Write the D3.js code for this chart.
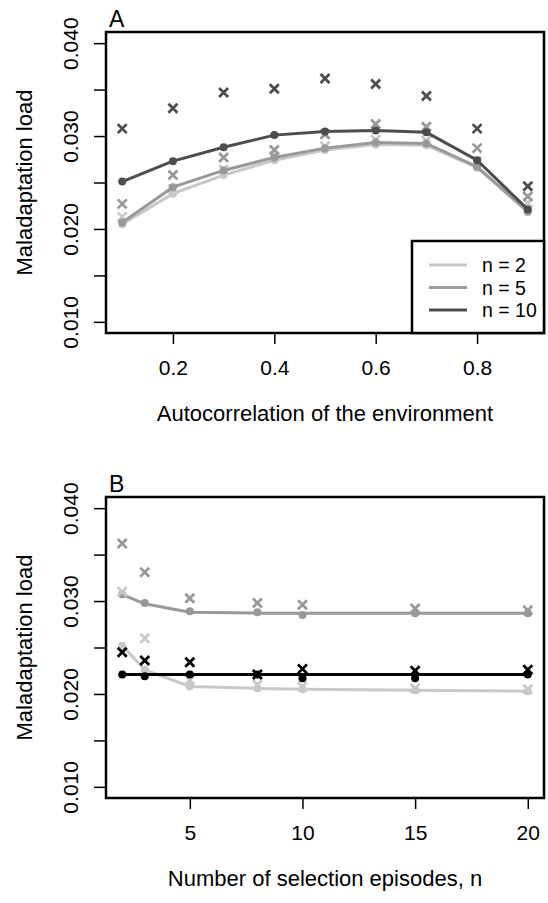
<!DOCTYPE html>
<html>
<head>
<meta charset="utf-8">
<script src="https://cdn.jsdelivr.net/npm/d3@7"></script>
<style>
	body { margin: 0; background: #fff; }
	svg { display: block; font-family: "Liberation Sans", Arial, sans-serif; }
</style>
</head>
<body>
<script>
// panel A: load vs autocorrelation, three values of n
let autocorr = [0.1, 0.2, 0.3, 0.4, 0.5, 0.6, 0.7, 0.8, 0.9]
let aN2Dots   = [0.0205, 0.0238, 0.0258, 0.0274, 0.0285, 0.0291, 0.0290, 0.0266, 0.0218]
let aN2Cross  = [0.0213, 0.0243, 0.0264, 0.0278, 0.0289, 0.0296, 0.0295, 0.0273, 0.0228]
let aN5Dots   = [0.0207, 0.0245, 0.0263, 0.0277, 0.0287, 0.0293, 0.0292, 0.0267, 0.0219]
let aN5Cross  = [0.0227, 0.0258, 0.0277, 0.0285, 0.0302, 0.0313, 0.0310, 0.0287, 0.0235]
let aN10Dots  = [0.0251, 0.0273, 0.0288, 0.0301, 0.0305, 0.0306, 0.0304, 0.0274, 0.0221]
let aN10Cross = [0.0308, 0.0330, 0.0347, 0.0351, 0.0362, 0.0356, 0.0343, 0.0308, 0.0246]
let legendLabels = ['n = 2', 'n = 5', 'n = 10']

// panel B: load vs number of selection episodes
let episodes = [2, 3, 5, 8, 10, 15, 20]
let bMidLine    = [0.0307, 0.0297, 0.0288, 0.0287, 0.0287, 0.0287, 0.0287]
let bMidDots    = [0.0307, 0.0298, 0.0289, 0.0288, 0.0285, 0.0287, 0.0287]
let bMidCross   = [0.0362, 0.0331, 0.0303, 0.0298, 0.0296, 0.0292, 0.0290]
let bLightLine  = [0.0252, 0.0226, 0.0208, 0.0206, 0.0205, 0.0204, 0.0203]
let bLightDots  = [0.0252, 0.0226, 0.0208, 0.0206, 0.0205, 0.0204, 0.0203]
let bLightCross = [0.0310, 0.0260, 0.0215, 0.0210, 0.0208, 0.0206, 0.0205]
let bBlackLine  = [0.0221, 0.0221, 0.0221, 0.0221, 0.0221, 0.0221, 0.0221]
let bBlackDots  = [0.0221, 0.0219, 0.0221, 0.0221, 0.0217, 0.0217, 0.0221]
let bBlackCross = [0.0245, 0.0236, 0.0234, 0.0221, 0.0227, 0.0225, 0.0226]

let yTicks = [0.010, 0.015, 0.020, 0.025, 0.030, 0.035, 0.040]
let yLabelled = [0.010, 0.020, 0.030, 0.040]
let aTicks = [0.2, 0.4, 0.6, 0.8]
let bTicks = [5, 10, 15, 20]

const light = '#c8c8c8', mid = '#999999', dark = '#4d4d4d'

let svg = d3.select('body').append('svg')
	.attr('width', 548).attr('height', 903)

let drawPanel = function(top, xs, xDomain, xTicks, xFmt, xTitle, letter, series) {
	let left = 106, right = 544, bottom = top + 301
	let x = d3.scaleLinear().domain(xDomain).range([left, right])
	let y = d3.scaleLinear().domain([0.0088, 0.0412]).range([bottom, top])
	let g = svg.append('g')

	// y axis, labels rotated like base R
	let yAx = g.append('g').attr('transform', `translate(${left},0)`)
		.call(d3.axisLeft(y).tickValues(yTicks).tickSize(12).tickSizeOuter(0)
			.tickFormat(d => yLabelled.some(v => Math.abs(v - d) < 1e-9) ? d3.format('.3f')(d) : ''))
	yAx.select('.domain').remove()
	yAx.selectAll('line').attr('stroke', '#000').attr('stroke-width', 1.5)
	yAx.selectAll('text')
		.attr('x', 0).attr('y', 0).attr('dy', null)
		.attr('transform', `translate(${78 - left},0) rotate(-90)`)
		.attr('text-anchor', 'middle')
		.attr('font-size', 21).attr('fill', '#000')
		.attr('font-family', '"Liberation Sans", Arial, sans-serif')

	// x axis
	let xAx = g.append('g').attr('transform', `translate(0,${bottom})`)
		.call(d3.axisBottom(x).tickValues(xTicks).tickSize(11).tickSizeOuter(0).tickFormat(xFmt))
	xAx.select('.domain').remove()
	xAx.selectAll('line').attr('stroke', '#000').attr('stroke-width', 1.5)
	xAx.selectAll('text')
		.attr('y', 42).attr('dy', null)
		.attr('font-size', 21).attr('fill', '#000')
		.attr('font-family', '"Liberation Sans", Arial, sans-serif')

	g.append('text')
		.attr('transform', `translate(32,${(top + bottom) / 2}) rotate(-90)`)
		.attr('text-anchor', 'middle').attr('font-size', 22)
		.text('Maladaptation load')
	g.append('text')
		.attr('x', (left + right) / 2).attr('y', bottom + 88)
		.attr('text-anchor', 'middle').attr('font-size', 22)
		.text(xTitle)
	g.append('text')
		.attr('x', 109).attr('y', top - 5)
		.attr('font-size', 23)
		.text(letter)

	let line = d3.line().x((d, i) => x(xs[i])).y(d => y(d))
	for (let s of series) {
		if (s.line) {
			g.append('path').datum(s.line)
				.attr('d', line).attr('fill', 'none')
				.attr('stroke', s.color).attr('stroke-width', 3)
		}
		g.append('g').selectAll('circle').data(s.dots).join('circle')
			.attr('cx', (d, i) => x(xs[i])).attr('cy', d => y(d))
			.attr('r', 4).attr('fill', s.color)
		g.append('g').selectAll('path').data(s.cross).join('path')
			.attr('d', (d, i) => {
				let cx = x(xs[i]), cy = y(d), r = 4.5
				return `M${cx - r},${cy - r}L${cx + r},${cy + r}M${cx - r},${cy + r}L${cx + r},${cy - r}`
			})
			.attr('stroke', s.crossColor || s.color).attr('stroke-width', 2.8).attr('fill', 'none')
	}

	g.append('rect')
		.attr('x', left).attr('y', top)
		.attr('width', right - left).attr('height', bottom - top)
		.attr('fill', 'none').attr('stroke', '#000').attr('stroke-width', 2.5)
	return { g: g, x: x, y: y, right: right, bottom: bottom }
}

let pA = drawPanel(32, autocorr, [0.068, 0.932], aTicks, d3.format('.1f'),
	'Autocorrelation of the environment', 'A', [
		{ color: light, line: aN2Dots, dots: aN2Dots, cross: aN2Cross },
		{ color: mid, line: aN5Dots, dots: aN5Dots, cross: aN5Cross },
		{ color: dark, line: aN10Dots, dots: aN10Dots, cross: aN10Cross }
	])

// legend for panel A
let leg = pA.g.append('g')
leg.append('rect')
	.attr('x', 412).attr('y', 241)
	.attr('width', pA.right - 412).attr('height', pA.bottom - 241)
	.attr('fill', '#fff').attr('stroke', '#000').attr('stroke-width', 2.5)
let legColors = [light, mid, dark]
leg.selectAll('g.item').data(legendLabels).join('g')
	.attr('class', 'item')
	.attr('transform', (d, i) => `translate(0,${265 + i * 22.5})`)
	.each(function(d, i) {
		let it = d3.select(this)
		it.append('line').attr('x1', 429).attr('x2', 467)
			.attr('stroke', legColors[i]).attr('stroke-width', 3)
		it.append('text').attr('x', 482).attr('y', 7)
			.attr('font-size', 19.5).text(d)
	})

drawPanel(497, episodes, [1.28, 20.72], bTicks, d3.format('d'),
	'Number of selection episodes, n', 'B', [
		{ color: mid, line: bMidLine, dots: bMidDots, cross: bMidCross },
		{ color: light, line: bLightLine, dots: bLightDots, cross: bLightCross },
		{ color: '#000', line: bBlackLine, dots: bBlackDots, cross: bBlackCross }
	])
</script>
</body>
</html>
